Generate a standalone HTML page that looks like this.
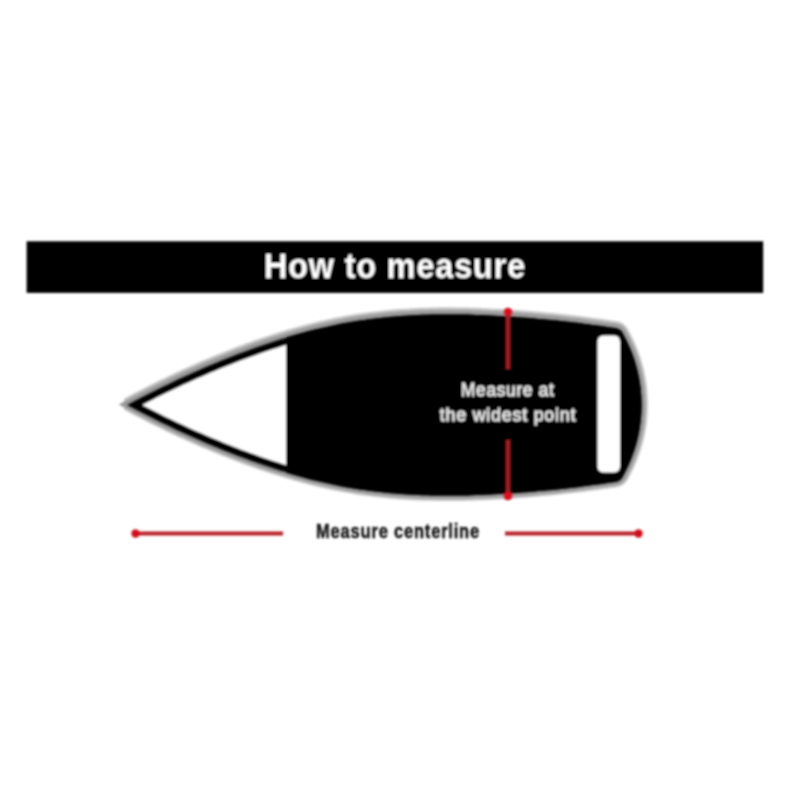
<!DOCTYPE html>
<html><head><meta charset="utf-8">
<style>
html,body{margin:0;padding:0;background:#fff;width:800px;height:800px;overflow:hidden}
svg{display:block}
text{font-family:"Liberation Sans",sans-serif}
</style></head>
<body>
<svg width="800" height="800" viewBox="0 0 800 800">
<defs>
<filter id="bl" x="-5%" y="-5%" width="110%" height="110%"><feGaussianBlur stdDeviation="0.9"/></filter>
<filter id="bl2" x="-5%" y="-10%" width="110%" height="120%"><feGaussianBlur stdDeviation="1.0"/></filter>
<path id="hull" d="M127.0,405.0 131.5,402.5 136.0,400.1 140.4,397.8 144.9,395.5 149.4,393.2 153.9,390.9 158.3,388.7 162.8,386.5 167.3,384.4 171.8,382.2 176.2,380.1 180.7,378.0 185.2,376.0 189.7,373.9 194.2,371.9 198.6,370.0 203.1,368.0 207.6,366.1 212.1,364.2 216.5,362.4 221.0,360.6 225.5,358.8 230.0,357.0 234.4,355.3 238.9,353.5 243.4,351.9 247.9,350.2 252.4,348.6 256.8,347.0 261.3,345.4 265.8,343.9 270.3,342.4 274.7,341.0 279.2,339.6 283.7,338.2 288.2,336.8 292.7,335.5 297.1,334.2 301.6,333.0 306.1,331.8 310.6,330.6 315.0,329.5 319.5,328.4 324.0,327.4 328.5,326.4 332.9,325.4 337.4,324.5 341.9,323.6 346.4,322.8 350.9,322.0 355.3,321.3 359.8,320.5 364.3,319.9 368.8,319.3 373.2,318.7 377.7,318.2 382.2,317.7 386.7,317.2 391.1,316.8 395.6,316.4 400.1,316.0 404.6,315.7 409.1,315.5 413.5,315.2 418.0,315.0 422.5,314.8 427.0,314.7 431.4,314.6 435.9,314.5 440.4,314.4 444.9,314.4 449.3,314.4 453.8,314.4 458.3,314.5 462.8,314.5 467.3,314.6 471.7,314.8 476.2,314.9 480.7,315.1 485.2,315.2 489.6,315.5 494.1,315.7 498.6,315.9 503.1,316.2 507.6,316.5 512.0,316.7 516.5,317.1 521.0,317.4 525.5,317.7 529.9,318.1 534.4,318.5 538.9,318.9 543.4,319.3 547.8,319.7 552.3,320.1 556.8,320.6 561.3,321.1 565.8,321.6 570.2,322.1 574.7,322.6 579.2,323.1 583.7,323.7 588.1,324.3 592.6,324.9 597.1,325.5 601.6,326.1 606.0,326.7 610.5,327.4 615.0,328.0 Q621.0,328.8 623.2,334.3 A145,145 0 0 1 623.2,475.7 Q621.0,481.2 615.0,482.0 L615.0,482.0 610.5,482.6 606.0,483.3 601.6,483.9 597.1,484.5 592.6,485.1 588.1,485.7 583.7,486.3 579.2,486.9 574.7,487.4 570.2,487.9 565.8,488.4 561.3,488.9 556.8,489.4 552.3,489.9 547.8,490.3 543.4,490.7 538.9,491.1 534.4,491.5 529.9,491.9 525.5,492.3 521.0,492.6 516.5,492.9 512.0,493.3 507.6,493.5 503.1,493.8 498.6,494.1 494.1,494.3 489.6,494.5 485.2,494.8 480.7,494.9 476.2,495.1 471.7,495.2 467.3,495.4 462.8,495.5 458.3,495.5 453.8,495.6 449.3,495.6 444.9,495.6 440.4,495.6 435.9,495.5 431.4,495.4 427.0,495.3 422.5,495.2 418.0,495.0 413.5,494.8 409.1,494.5 404.6,494.3 400.1,494.0 395.6,493.6 391.1,493.2 386.7,492.8 382.2,492.3 377.7,491.8 373.2,491.3 368.8,490.7 364.3,490.1 359.8,489.5 355.3,488.7 350.9,488.0 346.4,487.2 341.9,486.4 337.4,485.5 332.9,484.6 328.5,483.6 324.0,482.6 319.5,481.6 315.0,480.5 310.6,479.4 306.1,478.2 301.6,477.0 297.1,475.8 292.7,474.5 288.2,473.2 283.7,471.8 279.2,470.4 274.7,469.0 270.3,467.6 265.8,466.1 261.3,464.6 256.8,463.0 252.4,461.4 247.9,459.8 243.4,458.1 238.9,456.5 234.4,454.7 230.0,453.0 225.5,451.2 221.0,449.4 216.5,447.6 212.1,445.8 207.6,443.9 203.1,442.0 198.6,440.0 194.2,438.1 189.7,436.1 185.2,434.0 180.7,432.0 176.2,429.9 171.8,427.8 167.3,425.6 162.8,423.5 158.3,421.3 153.9,419.1 149.4,416.8 144.9,414.5 140.4,412.2 136.0,409.9 131.5,407.5 127.0,405.0 Z"/>
<clipPath id="hc"><use href="#hull"/></clipPath>
</defs>
<rect x="0" y="0" width="800" height="800" fill="#fff"/>
<g filter="url(#bl2)">
<use href="#hull" fill="none" stroke="#c4c4c4" stroke-width="12.5" stroke-miterlimit="1.9" transform="translate(0,-0.8)"/>
<use href="#hull" fill="none" stroke="#9a9a9a" stroke-width="8" transform="translate(0,-0.5)"/>
</g>
<g filter="url(#bl)">
<rect x="26.6" y="241.3" width="736.6" height="51.6" fill="#000"/>
<text x="395" y="277.6" font-size="35.5" font-weight="bold" fill="#fff" letter-spacing="1" text-anchor="middle" textLength="262" lengthAdjust="spacingAndGlyphs">How to measure</text>

<use href="#hull" fill="#000"/>
<g clip-path="url(#hc)">
<rect x="0" y="300" width="286" height="200" fill="#fff"/>
<use href="#hull" fill="none" stroke="#000" stroke-width="14.5"/>
</g>
<rect x="597.5" y="335.5" width="22.5" height="137" rx="6" fill="#fff"/>

<line x1="508" y1="312" x2="508" y2="369" stroke="#9e1a22" stroke-width="4"/>
<line x1="508" y1="440" x2="508" y2="496" stroke="#9e1a22" stroke-width="4"/>
<circle cx="508" cy="312" r="4.2" fill="#e0101c"/>
<circle cx="508" cy="496" r="4.2" fill="#e0101c"/>

<text x="507.8" y="395.8" font-size="18.5" font-weight="normal" fill="#e8e8e8" stroke="#e8e8e8" stroke-width="0.8" letter-spacing="0.8" text-anchor="middle" textLength="93.5" lengthAdjust="spacingAndGlyphs">Measure at</text>
<text x="508" y="421" font-size="18.5" font-weight="normal" fill="#e8e8e8" stroke="#e8e8e8" stroke-width="0.8" letter-spacing="0.8" text-anchor="middle" textLength="136.5" lengthAdjust="spacingAndGlyphs">the widest point</text>

<line x1="135.5" y1="533.5" x2="283" y2="533.5" stroke="#ba232c" stroke-width="3.8"/>
<circle cx="135.5" cy="533.5" r="4.2" fill="#d4101c"/>
<line x1="505" y1="533.5" x2="638.5" y2="533.5" stroke="#ba232c" stroke-width="3.8"/>
<circle cx="638.5" cy="533.5" r="4.2" fill="#d4101c"/>

<text x="398" y="538" font-size="21" font-weight="bold" fill="#161616" stroke="#161616" stroke-width="0.5" letter-spacing="1" text-anchor="middle" textLength="164" lengthAdjust="spacingAndGlyphs">Measure centerline</text>
</g>
</svg>
</body></html>
